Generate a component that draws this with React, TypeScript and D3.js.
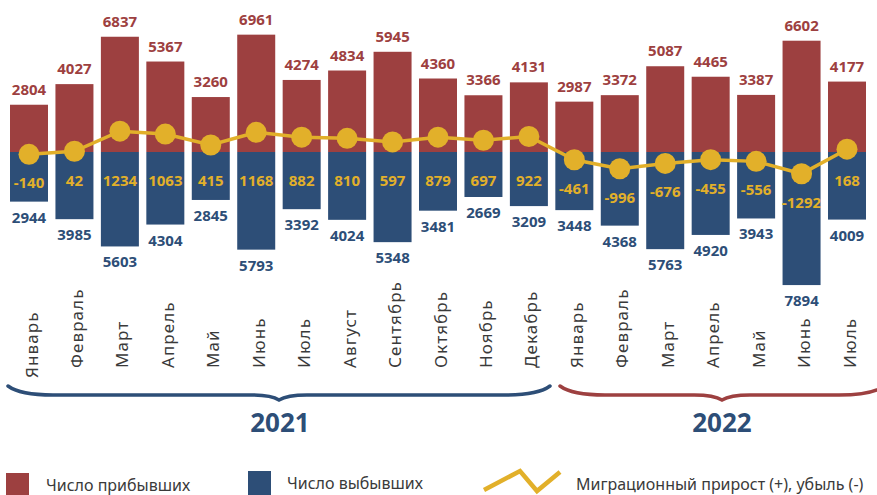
import React from "react";
import * as d3 from "d3";

const months = [
  "Январь", "Февраль", "Март", "Апрель", "Май", "Июнь", "Июль", "Август",
  "Сентябрь", "Октябрь", "Ноябрь", "Декабрь",
  "Январь", "Февраль", "Март", "Апрель", "Май", "Июнь", "Июль",
];
const years = ["2021", "2021", "2021", "2021", "2021", "2021", "2021", "2021", "2021", "2021", "2021", "2021",
  "2022", "2022", "2022", "2022", "2022", "2022", "2022"];
const arrived = [2804, 4027, 6837, 5367, 3260, 6961, 4274, 4834, 5945, 4360, 3366, 4131,
  2987, 3372, 5087, 4465, 3387, 6602, 4177];
const departed = [2944, 3985, 5603, 4304, 2845, 5793, 3392, 4024, 5348, 3481, 2669, 3209,
  3448, 4368, 5763, 4920, 3943, 7894, 4009];
const growth = [-140, 42, 1234, 1063, 415, 1168, 882, 810, 597, 879, 697, 922,
  -461, -996, -676, -455, -556, -1292, 168];
const yearGroups = ["2021", "2022"];
const legendLabels = ["Число прибывших", "Число выбывших", "Миграционный прирост (+), убыль (-)"];

const W = 877, H = 495;
const RED = "#9d4040", BLUE = "#2d4e77", YEL = "#e2b02a", TXT = "#3a3a3a";
const FONT = "'Noto Sans', 'Open Sans', sans-serif";

export default function App() {
  const keys = months.map((m, i) => years[i] + "-" + m);
  const x = d3.scalePoint<string>().domain(keys).range([29, 847]);
  const y = d3.scaleLinear().domain([0, 7000]).range([152, 34]);
  const bw = 38;
  const line = d3.line<number>().x((_, i) => x(keys[i])!).y((d) => y(d));

  const brace = (x0: number, x1: number, top: number, bot: number) => {
    const mid = (x0 + x1) / 2;
    const flat = bot - 5;
    return `M${x0},${top} Q${x0 + 12},${flat} ${x0 + 45},${flat} L${mid - 28},${flat} Q${mid - 8},${flat} ${mid},${bot} Q${mid + 8},${flat} ${mid + 28},${flat} L${x1 - 45},${flat} Q${x1 - 12},${flat} ${x1},${top}`;
  };

  const braceCoords = [
    { x0: 8, x1: 550, color: BLUE, label: 280 },
    { x0: 560, x1: 884, color: RED, label: 722 },
  ];

  return (
    <svg width={W} height={H} style={{ position: "absolute", left: 0, top: 0, background: "#fff" }} fontFamily={FONT}>
      {keys.map((k, i) => {
        const mx = x(k)! + 2;
        const my = i === 0 ? 378 : 368;
        return (
          <g key={k}>
            <rect x={x(k)! - bw / 2} y={y(arrived[i])} width={bw} height={y(0) - y(arrived[i])} fill={RED} />
            <rect x={x(k)! - bw / 2} y={y(0)} width={bw} height={y(-departed[i]) - y(0)} fill={BLUE} />
            <text x={x(k)} y={y(arrived[i]) - 10} textAnchor="middle" fill={RED} fontWeight="bold" fontSize={15}>{arrived[i]}</text>
            <text x={x(k)} y={y(-departed[i]) + 21} textAnchor="middle" fill={BLUE} fontWeight="bold" fontSize={15}>{departed[i]}</text>
            <text x={mx} y={my} transform={`rotate(-90 ${mx} ${my})`} textAnchor="start" dominantBaseline="central" fill={TXT} fontSize={17} letterSpacing={1.1}>{months[i]}</text>
          </g>
        );
      })}
      <path d={line(growth)!} fill="none" stroke={YEL} strokeWidth={3.5} />
      {keys.map((k, i) => (
        <g key={"g" + k}>
          <circle cx={x(k)} cy={y(growth[i])} r={10.5} fill={YEL} />
          <text x={x(k)} y={y(Math.min(growth[i], 0)) + 28} textAnchor="middle" dominantBaseline="central" fill={YEL} fontWeight="bold" fontSize={15}>{growth[i]}</text>
        </g>
      ))}
      {yearGroups.map((yr, j) => {
        const b = braceCoords[j];
        return (
          <g key={yr}>
            <path d={brace(b.x0, b.x1, 386, 400)} fill="none" stroke={b.color} strokeWidth={3.5} strokeLinecap="round" />
            <text x={b.label} y={432} textAnchor="middle" fill={BLUE} fontWeight="bold" fontSize={26}>{yr}</text>
          </g>
        );
      })}
      <rect x={6} y={473} width={23} height={22} fill={RED} />
      <text x={46} y={491} fill={TXT} fontSize={16}>{legendLabels[0]}</text>
      <rect x={248} y={471} width={23} height={24} fill={BLUE} />
      <text x={287} y={489} fill={TXT} fontSize={16}>{legendLabels[1]}</text>
      <path d="M484,490 L520,471 L537,491 L560,472" fill="none" stroke={YEL} strokeWidth={4.5} />
      <text x={576} y={490} fill={TXT} fontSize={16}>{legendLabels[2]}</text>
    </svg>
  );
}
